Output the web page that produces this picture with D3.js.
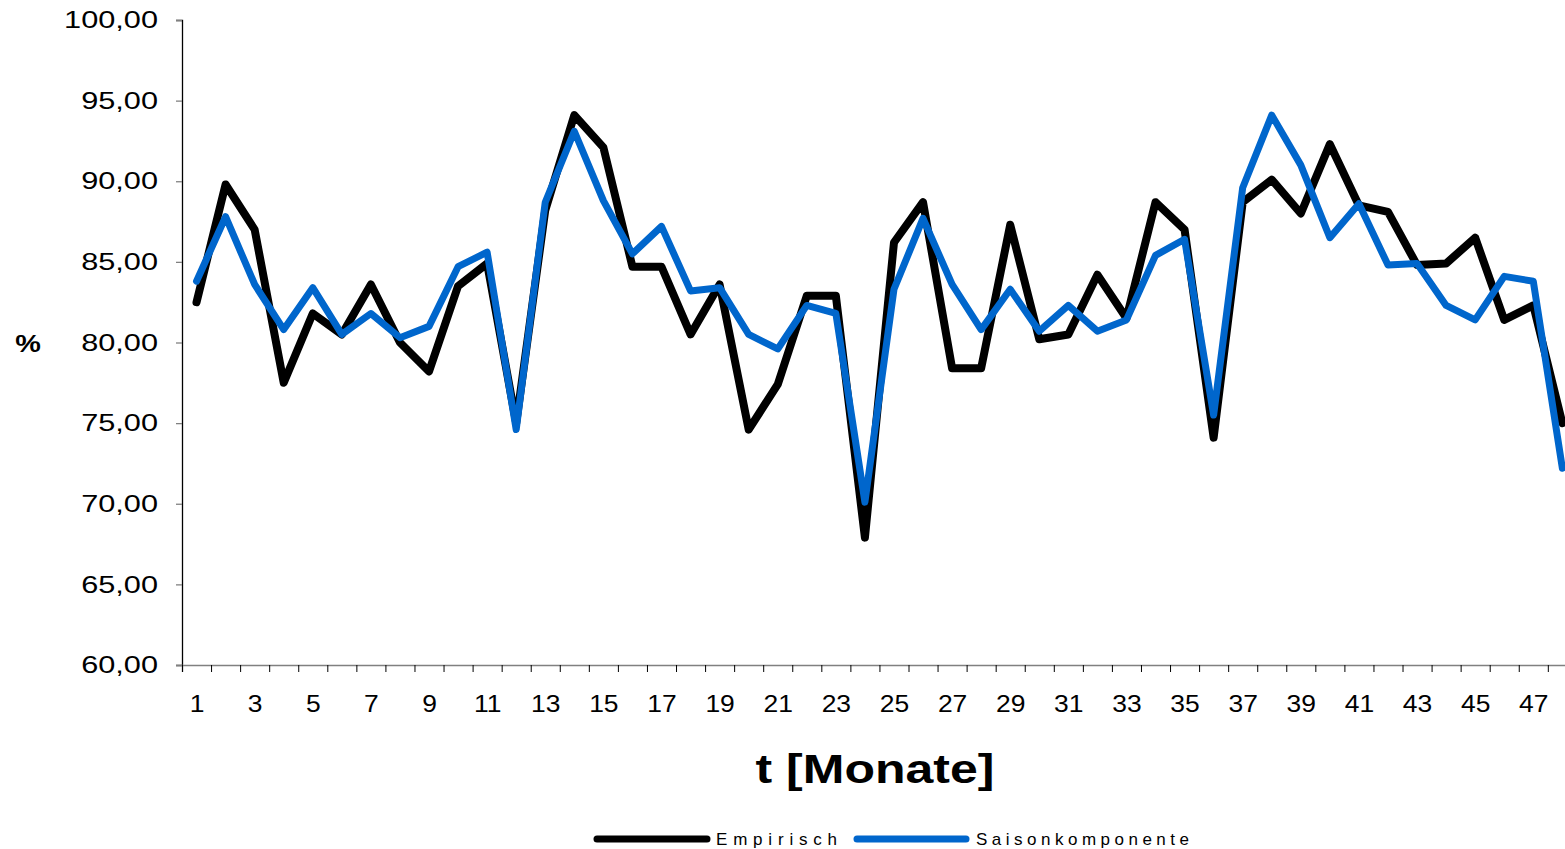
<!DOCTYPE html>
<html>
<head>
<meta charset="utf-8">
<script src="https://d3js.org/d3.v7.min.js"></script>
<style>
  body { margin: 0; background: #fff; }
  text { font-family: "Liberation Sans", Arial, sans-serif; }
</style>
</head>
<body>
<div id="chart"></div>
<script>
// data
var months = d3.range(1, 49);
var empirisch = [82.5, 89.8, 87.0, 77.5, 81.8, 80.5, 83.6, 80.0, 78.2, 83.5,
  84.9, 75.0, 88.2, 94.1, 92.1, 84.7, 84.7, 80.5, 83.6, 74.6,
  77.4, 82.9, 82.9, 67.9, 86.2, 88.7, 78.4, 78.4, 87.3, 80.2,
  80.5, 84.2, 81.5, 88.7, 87.0, 74.1, 88.7, 90.1, 88.0, 92.3,
  88.5, 88.1, 84.8, 84.9, 86.5, 81.4, 82.3, 75.0];
var saison = [83.8, 87.8, 83.6, 80.8, 83.4, 80.5, 81.8, 80.3, 81.0, 84.7,
  85.6, 74.6, 88.7, 93.1, 88.8, 85.5, 87.2, 83.2, 83.4, 80.5,
  79.6, 82.3, 81.8, 70.1, 83.3, 87.7, 83.6, 80.8, 83.3, 80.7,
  82.3, 80.7, 81.4, 85.4, 86.4, 75.5, 89.6, 94.1, 91.0, 86.5,
  88.6, 84.8, 84.9, 82.3, 81.4, 84.1, 83.8, 72.2];
var yTicks = [60, 65, 70, 75, 80, 85, 90, 95, 100];
var xLabels = months.filter(function(d) { return d % 2 === 1; });
var seriesNames = ["Empirisch", "Saisonkomponente"];

// dimensions
var plotLeft = 182, plotTop = 20, plotH = 645, step = 29.06;
var plotW = step * 48;
var wide = 1.28; // the original font is drawn wider than usual

var svg = d3.select("#chart").append("svg")
    .attr("width", 1565)
    .attr("height", 849);

// scales
var x = d3.scaleLinear().domain([0.5, 48.5]).range([plotLeft, plotLeft + plotW]);
var y = d3.scaleLinear().domain([60, 100]).range([plotTop + plotH, plotTop]);

var fmt = function(d) { return d3.format(".2f")(d).replace(".", ","); };

// y axis
var yAxis = svg.append("g")
    .attr("transform", "translate(" + plotLeft + ",0)")
    .call(d3.axisLeft(y).tickValues(yTicks).tickSize(6).tickPadding(18).tickFormat(fmt));
yAxis.select(".domain").attr("stroke", "#000").attr("stroke-width", 1.3);
yAxis.selectAll(".tick line").attr("stroke", "#808080").attr("stroke-width", 1.3);
yAxis.selectAll("text")
    .attr("font-size", 24).attr("fill", "#000")
    .attr("x", -24 / wide)
    .attr("transform", "scale(" + wide + ",1)");

// x axis: ticks between months
var xTickAxis = svg.append("g")
    .attr("transform", "translate(0," + (plotTop + plotH) + ")")
    .call(d3.axisBottom(x).tickValues(d3.range(0.5, 49, 1)).tickSize(7).tickFormat(""));
xTickAxis.select(".domain").attr("stroke", "#808080").attr("stroke-width", 1.5);
xTickAxis.selectAll(".tick line").attr("stroke", "#000").attr("stroke-width", 1);

var xLabAxis = svg.append("g")
    .attr("transform", "translate(0," + (plotTop + plotH) + ")")
    .call(d3.axisBottom(x).tickValues(xLabels).tickSize(0).tickPadding(31).tickFormat(d3.format("d")));
xLabAxis.select(".domain").remove();
xLabAxis.selectAll("text")
    .attr("font-size", 23).attr("fill", "#000")
    .attr("transform", "scale(1.15,1)");

// lines
var line = d3.line()
    .x(function(d, i) { return x(months[i]); })
    .y(function(d) { return y(d); });

svg.append("path")
    .datum(empirisch)
    .attr("fill", "none")
    .attr("stroke", "#000")
    .attr("stroke-width", 8)
    .attr("stroke-linejoin", "round")
    .attr("stroke-linecap", "round")
    .attr("d", line);

svg.append("path")
    .datum(saison)
    .attr("fill", "none")
    .attr("stroke", "#0066cc")
    .attr("stroke-width", 7)
    .attr("stroke-linejoin", "round")
    .attr("stroke-linecap", "round")
    .attr("d", line);

// axis titles
svg.append("text")
    .attr("transform", "translate(28,352) scale(1.2,1)")
    .attr("text-anchor", "middle")
    .attr("font-size", 24).attr("font-weight", "bold")
    .text("%");

svg.append("text")
    .attr("transform", "translate(875,783) scale(1.22,1)")
    .attr("text-anchor", "middle")
    .attr("font-size", 41).attr("font-weight", "bold")
    .text("t [Monate]");

// legend
var legend = [
  {name: seriesNames[0], color: "#000", x1: 597, x2: 707, tx: 716, len: 121},
  {name: seriesNames[1], color: "#0066cc", x1: 857, x2: 966, tx: 976, len: 213}
];
var lg = svg.append("g");
lg.selectAll("line").data(legend).enter().append("line")
    .attr("x1", function(d) { return d.x1; })
    .attr("x2", function(d) { return d.x2; })
    .attr("y1", 839).attr("y2", 839)
    .attr("stroke", function(d) { return d.color; })
    .attr("stroke-width", 7)
    .attr("stroke-linecap", "round");
lg.selectAll("text").data(legend).enter().append("text")
    .attr("x", function(d) { return d.tx; })
    .attr("y", 845)
    .attr("font-size", 17)
    .attr("textLength", function(d) { return d.len; })
    .attr("lengthAdjust", "spacing")
    .text(function(d) { return d.name; });
</script>
</body>
</html>
